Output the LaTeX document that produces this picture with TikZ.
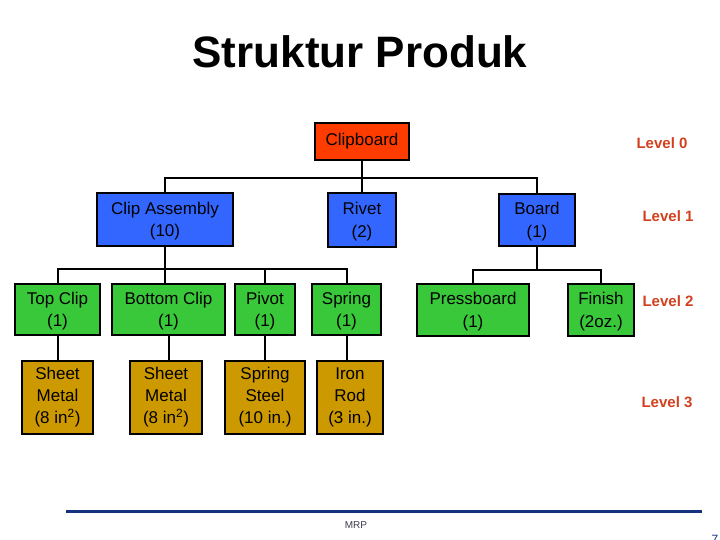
\documentclass[tikz,border=0pt]{standalone}
\usepackage{fontspec}
\setmainfont{Liberation Sans}
\definecolor{topred}{RGB}{255,60,0}
\definecolor{boxblue}{RGB}{51,102,255}
\definecolor{boxgreen}{RGB}{57,200,57}
\definecolor{boxgold}{RGB}{204,153,0}
\definecolor{lvlred}{RGB}{210,65,30}
\definecolor{navy}{RGB}{20,50,125}
\definecolor{footgray}{RGB}{60,60,80}
\tikzset{
  part/.style={draw=black, line width=2.2pt, inner sep=0pt, align=center,
    font=\fontsize{17}{22.5}\selectfont},
  lvl0/.style={part, fill=topred},
  lvl1/.style={part, fill=boxblue, text depth=0pt},
  lvl2/.style={part, fill=boxgreen, text depth=0pt},
  lvl3/.style={part, fill=boxgold, font=\fontsize{17}{22}\selectfont},
  conn/.style={draw=black, line width=2pt},
  lvllabel/.style={text=lvlred, font=\fontsize{15}{18}\selectfont\bfseries},
}
\begin{document}
\begin{tikzpicture}[x=1pt,y=-1pt]
\useasboundingbox (0,0) rectangle (720,540);
\fill[white] (0,0) rectangle (720,540);

\node[anchor=base, font=\fontsize{44}{50}\selectfont\bfseries] (title) at (360,68) {Struktur Produk};

% level 0
\node[lvl0, minimum width=94pt, minimum height=37pt] (cb) at (362,141.5) {Clipboard};

% level 1
\node[lvl1, minimum width=136pt, minimum height=53pt] (ca) at (165,219.5) {Clip Assembly\\(10)};
\node[lvl1, minimum width=68pt, minimum height=54pt] (rv) at (362,220) {Rivet\\(2)};
\node[lvl1, minimum width=76pt, minimum height=52pt] (bd) at (537,220) {Board\\(1)};

% level 2
\node[lvl2, minimum width=85pt, minimum height=51pt] (tc) at (57.5,309.5) {Top Clip\\(1)};
\node[lvl2, minimum width=113pt, minimum height=51pt] (bc) at (168.5,309.5) {Bottom Clip\\(1)};
\node[lvl2, minimum width=60pt, minimum height=51pt] (pv) at (265,309.5) {Pivot\\(1)};
\node[lvl2, minimum width=69pt, minimum height=51pt] (sp) at (346.5,309.5) {Spring\\(1)};
\node[lvl2, minimum width=112pt, minimum height=52pt] (pb) at (473,310) {Pressboard\\(1)};
\node[lvl2, minimum width=66pt, minimum height=52pt] (fn) at (601,310) {Finish\\(2oz.)};

% level 3
\node[lvl3, minimum width=71pt, minimum height=73pt] (sm1) at (57.5,397.5) {Sheet\\Metal\\(8 in\textsuperscript{2})};
\node[lvl3, minimum width=72pt, minimum height=73pt] (sm2) at (166,397.5) {Sheet\\Metal\\(8 in\textsuperscript{2})};
\node[lvl3, minimum width=80pt, minimum height=73pt] (ss) at (265,397.5) {Spring\\Steel\\(10 in.)};
\node[lvl3, minimum width=66pt, minimum height=73pt] (ir) at (350,397.5) {Iron\\Rod\\(3 in.)};

% connectors level 0 -> 1
\coordinate (bus0) at (362,178);
\draw[conn] (cb.south) -- (rv.north);
\draw[conn] (bus0) -| (ca.north);
\draw[conn] (bus0) -| (bd.north);

% connectors clip assembly -> level 2
\coordinate (bus1) at (165,269);
\draw[conn] (ca.south) -- (ca.south |- bc.north);
\draw[conn] (bus1) -| (tc.north);
\draw[conn] (bus1) -| (pv.north);
\draw[conn] (bus1) -| (sp.north);

% connectors board -> level 2
\coordinate (bus2) at (537,270);
\draw[conn] (bd.south) -- (bus2);
\draw[conn] (bus2) -| (pb.north);
\draw[conn] (bus2) -| (fn.north);

% level 2 -> level 3
\draw[conn] (tc.south) -- (tc.south |- sm1.north);
\draw[conn] (bc.south) -- (bc.south |- sm2.north);
\draw[conn] (pv.south) -- (pv.south |- ss.north);
\draw[conn] (sp.south) -- (sp.south |- ir.north);

% level labels
\node[lvllabel] (l0) at (662,143) {Level 0};
\node[lvllabel] (l1) at (668,216) {Level 1};
\node[lvllabel] (l2) at (668,301) {Level 2};
\node[lvllabel] (l3) at (667,402) {Level 3};

% footer
\coordinate (fl) at (66,511);
\coordinate (fr) at (702,511);
\draw[navy, line width=3pt] (fl) -- (fr);
\node[text=footgray, font=\fontsize{10}{12}\selectfont] (mrp) at (356,525) {MRP};
\node[text=navy, anchor=north, inner sep=0pt, font=\fontsize{12}{14}\selectfont] (pg) at (715,535.5) {7};
\end{tikzpicture}
\end{document}
